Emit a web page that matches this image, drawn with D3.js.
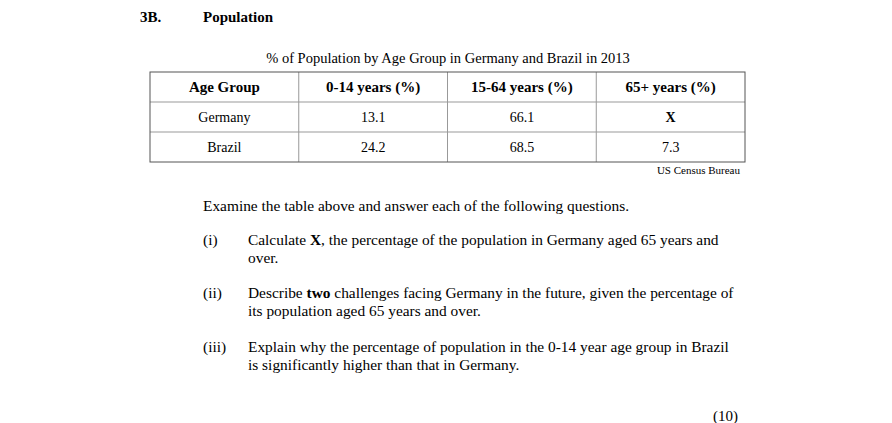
<!DOCTYPE html>
<html><head><meta charset="utf-8">
<script src="https://cdn.jsdelivr.net/npm/d3@7"></script>
<style>body{margin:0;background:#fff}svg{font-family:"Liberation Serif","Times New Roman",serif;}</style>
</head><body><svg id="c" width="892" height="423"></svg>
<script>
const headers = ["Age Group","0-14 years (%)","15-64 years (%)","65+ years (%)"];
const countries = ["Germany","Brazil"];
const age014 = ["13.1","24.2"];
const age1564 = ["66.1","68.5"];
const age65 = ["X","7.3"];

const svg = d3.select("#c");
const x = d3.scaleBand().domain(d3.range(4)).range([150,745]);
const y = d3.scaleBand().domain(d3.range(3)).range([72,162]);

svg.append("text").attr("x",140).attr("y",22).attr("font-weight","bold").attr("font-size",15).text("3B.");
svg.append("text").attr("x",203).attr("y",22).attr("font-weight","bold").attr("font-size",15).text("Population");
svg.append("text").attr("x",448).attr("y",63).attr("text-anchor","middle").attr("font-size",14.5).text("% of Population by Age Group in Germany and Brazil in 2013");

const rows = [headers, ...countries.map((c,i)=>[c,age014[i],age1564[i],age65[i]])];
for(let i=1;i<4;i++) svg.append("line").attr("x1",x(i)).attr("x2",x(i)).attr("y1",72).attr("y2",162).attr("stroke","#999");
for(let j=1;j<3;j++) svg.append("line").attr("x1",150).attr("x2",745).attr("y1",y(j)).attr("y2",y(j)).attr("stroke","#999");
svg.append("rect").attr("x",150).attr("y",72).attr("width",595).attr("height",90).attr("fill","none").attr("stroke","#555");
rows.forEach((r,j)=>r.forEach((t,i)=>{
  svg.append("text").attr("x",x(i)+x.bandwidth()/2).attr("y",y(j)+y.bandwidth()/2+5)
    .attr("text-anchor","middle").attr("font-size",j===0?15:14)
    .attr("font-weight",(j===0||t==="X")?"bold":"normal").text(t);
}));
svg.append("text").attr("x",740).attr("y",174).attr("text-anchor","end").attr("font-size",11).text("US Census Bureau");

const fs = 15.4;
svg.append("text").attr("x",203).attr("y",211).attr("font-size",fs).text("Examine the table above and answer each of the following questions.");
const qs = [
 ["(i)",245,[["Calculate ",["X","bold"],", the percentage of the population in Germany aged 65 years and"],["over."]]],
 ["(ii)",298,[["Describe ",["two","bold"]," challenges facing Germany in the future, given the percentage of"],["its population aged 65 years and over."]]],
 ["(iii)",352,[["Explain why the percentage of population in the 0-14 year age group in Brazil"],["is significantly higher than that in Germany."]]]
];
qs.forEach(([n,yy,lines])=>{
  svg.append("text").attr("x",203).attr("y",yy).attr("font-size",fs).text(n);
  lines.forEach((parts,k)=>{
    const t = svg.append("text").attr("x",248).attr("y",yy+18*k).attr("font-size",fs);
    parts.forEach(p=>{ if(Array.isArray(p)) t.append("tspan").attr("font-weight","bold").text(p[0]); else t.append("tspan").text(p); });
  });
});
svg.append("text").attr("x",738).attr("y",421).attr("text-anchor","end").attr("font-size",15).text("(10)");
</script></body></html>
